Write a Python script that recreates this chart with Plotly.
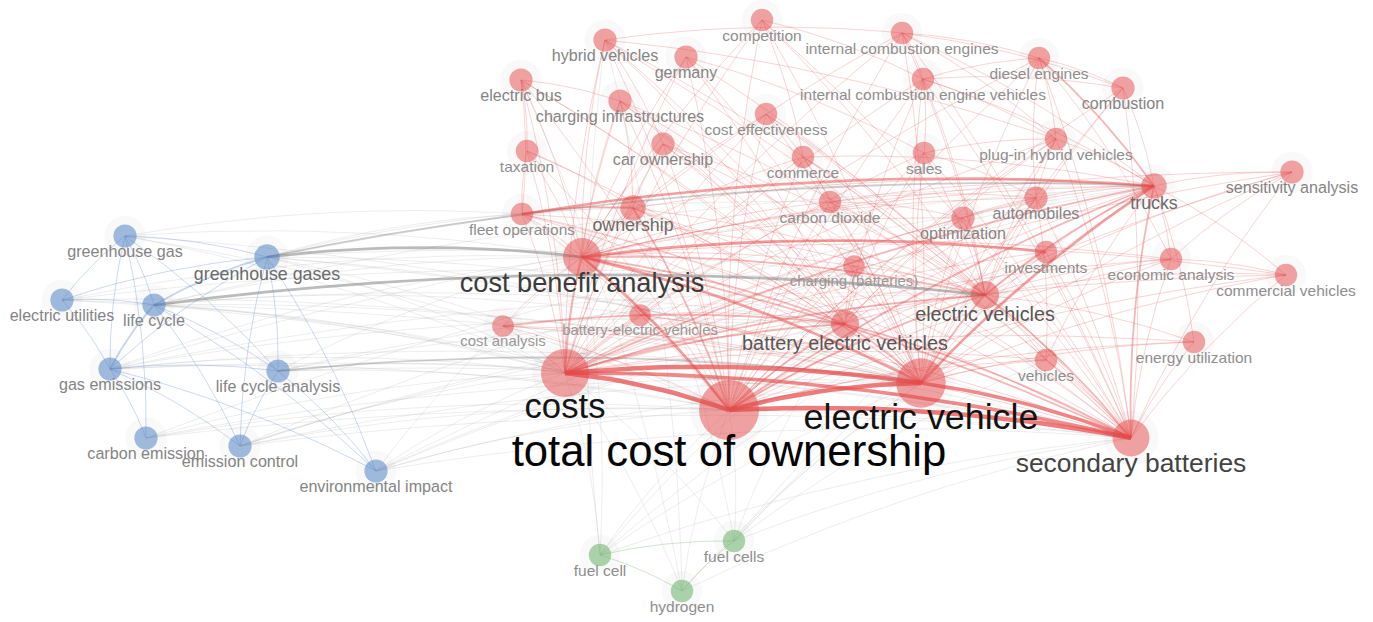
import numpy as np
import plotly.graph_objects as go

# ---------------- data ----------------
ids = ["ghg", "ghgs", "eutil", "lc", "gasem", "lca", "cem", "emc", "envi",
       "fc", "h2", "fcs",
       "hyb", "ger", "comp", "ice", "dies", "comb", "ebus", "chinf", "ceff", "icev",
       "phev", "tax", "carown", "commerce", "sales", "trucks", "sens", "fleet", "own",
       "co2", "auto", "opt", "cba", "chbat", "inv", "econ", "comveh", "evs", "cana",
       "bevh", "bev", "veh", "eu", "costs", "tco", "ev", "sb"]

labels = ["greenhouse gas", "greenhouse gases", "electric utilities", "life cycle", "gas emissions",
          "life cycle analysis", "carbon emission", "emission control", "environmental impact",
          "fuel cell", "hydrogen", "fuel cells",
          "hybrid vehicles", "germany", "competition", "internal combustion engines", "diesel engines",
          "combustion", "electric bus", "charging infrastructures", "cost effectiveness",
          "internal combustion engine vehicles", "plug-in hybrid vehicles", "taxation", "car ownership",
          "commerce", "sales", "trucks", "sensitivity analysis", "fleet operations", "ownership",
          "carbon dioxide", "automobiles", "optimization", "cost benefit analysis",
          "charging (batteries)", "investments", "economic analysis", "commercial vehicles",
          "electric vehicles", "cost analysis", "battery-electric vehicles", "battery electric vehicles",
          "vehicles", "energy utilization", "costs", "total cost of ownership", "electric vehicle",
          "secondary batteries"]

map_x = [125, 267, 62, 154, 110, 278, 146, 240, 376,
         600, 682, 734,
         605, 686, 762, 902, 1039, 1123, 521, 620, 766, 923,
         1056, 527, 663, 803, 924, 1154, 1292, 522, 633,
         830, 1036, 963, 582, 854, 1046, 1171, 1286, 985, 503,
         640, 845, 1046, 1194, 565, 729, 921, 1131]

map_y = [236, 257, 300, 305, 369, 371, 438, 446, 471,
         555, 591, 541,
         40, 57, 20, 33, 58, 88, 80, 101, 114, 79,
         139, 151, 144, 157, 153, 186, 172, 214, 208,
         202, 198, 218, 257, 266, 252, 259, 275, 295, 326,
         315, 324, 360, 342, 373, 410, 383, 438]

occurrences = [15, 18, 15, 15, 15, 15, 15, 15, 15,
               14, 14, 14,
               15, 15, 14, 14, 14, 15, 15, 15, 14, 14,
               14, 14, 15, 14, 14, 18, 15, 14, 18,
               14, 15, 15, 40, 13, 14, 14, 14, 22, 13,
               13, 22, 14, 14, 64, 100, 68, 38]

cluster = [1] * 9 + [2] * 3 + [0] * 37

# links: (source, target, strength)
links = [
    # blue cluster
    ("ghg", "ghgs", 1), ("ghg", "lc", 1), ("ghg", "gasem", 1), ("ghg", "lca", 1), ("ghg", "eutil", 1),
    ("ghg", "cem", 1), ("ghgs", "lc", 2), ("ghgs", "lca", 1), ("ghgs", "emc", 1), ("ghgs", "envi", 1),
    ("ghgs", "eutil", 1), ("ghgs", "gasem", 1), ("eutil", "lc", 1), ("eutil", "gasem", 1),
    ("lc", "gasem", 2), ("lc", "lca", 1), ("lc", "emc", 1), ("lc", "envi", 1), ("gasem", "lca", 1),
    ("gasem", "emc", 1), ("gasem", "cem", 1), ("gasem", "envi", 1), ("lca", "envi", 1), ("lca", "emc", 1),
    # blue to others
    ("ghg", "tco", 1), ("ghg", "costs", 1), ("ghg", "cba", 1), ("ghg", "ev", 1), ("ghg", "fleet", 1),
    ("ghgs", "cba", 3), ("ghgs", "tco", 1), ("ghgs", "costs", 1), ("ghgs", "ev", 1), ("ghgs", "evs", 1),
    ("ghgs", "bev", 1), ("ghgs", "trucks", 2), ("ghgs", "sb", 1), ("ghgs", "fleet", 1), ("ghgs", "own", 1),
    ("ghgs", "co2", 1),
    ("eutil", "tco", 1), ("eutil", "costs", 1), ("eutil", "cba", 1), ("eutil", "evs", 1), ("eutil", "ev", 1),
    ("lc", "evs", 3), ("lc", "tco", 1), ("lc", "costs", 1), ("lc", "ev", 1), ("lc", "sb", 1), ("lc", "cba", 1),
    ("lc", "bev", 1), ("lc", "bevh", 1), ("lc", "trucks", 1),
    ("gasem", "tco", 1), ("gasem", "costs", 1), ("gasem", "ev", 1), ("gasem", "sb", 1), ("gasem", "cba", 1),
    ("gasem", "evs", 1), ("gasem", "bev", 1), ("gasem", "trucks", 1),
    ("lca", "tco", 1), ("lca", "costs", 1), ("lca", "ev", 2), ("lca", "sb", 1), ("lca", "bev", 1),
    ("lca", "evs", 1), ("lca", "cba", 1),
    ("cem", "tco", 1), ("cem", "costs", 1), ("cem", "ev", 1), ("cem", "sb", 1), ("cem", "trucks", 1),
    ("emc", "tco", 1), ("emc", "costs", 1), ("emc", "ev", 1), ("emc", "sb", 1), ("emc", "evs", 1),
    ("emc", "bev", 1), ("emc", "trucks", 1),
    ("envi", "tco", 1), ("envi", "costs", 1), ("envi", "ev", 1), ("envi", "sb", 1), ("envi", "cba", 1),
    ("envi", "bev", 1), ("envi", "evs", 1), ("envi", "trucks", 1),
    # green cluster
    ("fc", "h2", 1), ("fc", "fcs", 1), ("h2", "fcs", 1),
    ("fc", "tco", 1), ("fc", "costs", 1), ("fc", "ev", 1), ("fc", "sb", 1), ("fc", "bev", 1), ("fc", "cba", 1),
    ("fc", "hyb", 1), ("fc", "evs", 1),
    ("h2", "tco", 1), ("h2", "ev", 1), ("h2", "costs", 1), ("h2", "sb", 1), ("h2", "hyb", 1), ("h2", "ebus", 1),
    ("fcs", "tco", 1), ("fcs", "ev", 1), ("fcs", "sb", 1), ("fcs", "costs", 1), ("fcs", "bev", 1),
    ("fcs", "evs", 1), ("fcs", "own", 1), ("fcs", "trucks", 1), ("fcs", "veh", 1),
    # red cluster
    ("hyb", "tco", 1), ("hyb", "costs", 1), ("hyb", "ev", 1), ("hyb", "cba", 1), ("hyb", "evs", 1),
    ("hyb", "bev", 1), ("hyb", "phev", 1), ("hyb", "ice", 1), ("hyb", "sb", 1), ("hyb", "carown", 1),
    ("ger", "tco", 1), ("ger", "ev", 1), ("ger", "costs", 1), ("ger", "bev", 1), ("ger", "evs", 1),
    ("ger", "sales", 1), ("ger", "cba", 1),
    ("comp", "tco", 1), ("comp", "ev", 1), ("comp", "costs", 1), ("comp", "cba", 1), ("comp", "evs", 1),
    ("comp", "sb", 1), ("comp", "commerce", 1), ("comp", "icev", 1),
    ("ice", "tco", 1), ("ice", "ev", 1), ("ice", "costs", 1), ("ice", "sb", 1), ("ice", "trucks", 1),
    ("ice", "dies", 1), ("ice", "icev", 1), ("ice", "phev", 1), ("ice", "evs", 1), ("ice", "cba", 1),
    ("ice", "comb", 1),
    ("dies", "trucks", 2), ("dies", "tco", 1), ("dies", "ev", 1), ("dies", "sb", 1), ("dies", "comb", 1),
    ("dies", "icev", 1), ("dies", "phev", 1), ("dies", "costs", 1), ("dies", "auto", 1), ("dies", "econ", 1),
    ("comb", "trucks", 1), ("comb", "ev", 1), ("comb", "tco", 1), ("comb", "sb", 1), ("comb", "icev", 1),
    ("comb", "evs", 1),
    ("ebus", "tco", 1), ("ebus", "costs", 1), ("ebus", "cba", 1), ("ebus", "ev", 1), ("ebus", "fleet", 1),
    ("ebus", "tax", 1), ("ebus", "chinf", 1), ("ebus", "bev", 1),
    ("chinf", "tco", 1), ("chinf", "costs", 1), ("chinf", "ev", 1), ("chinf", "evs", 1), ("chinf", "bev", 1),
    ("chinf", "cba", 1), ("chinf", "own", 1), ("chinf", "chbat", 1),
    ("ceff", "tco", 1), ("ceff", "costs", 1), ("ceff", "ev", 1), ("ceff", "cba", 1), ("ceff", "sb", 1),
    ("ceff", "evs", 1), ("ceff", "commerce", 1),
    ("icev", "tco", 1), ("icev", "ev", 1), ("icev", "sb", 1), ("icev", "costs", 1), ("icev", "phev", 1),
    ("icev", "sales", 1), ("icev", "trucks", 1), ("icev", "bev", 1), ("icev", "evs", 1),
    ("phev", "tco", 1), ("phev", "ev", 1), ("phev", "sb", 1), ("phev", "costs", 1), ("phev", "evs", 1),
    ("phev", "bev", 1), ("phev", "sales", 1), ("phev", "auto", 1), ("phev", "trucks", 1),
    ("tax", "tco", 1), ("tax", "costs", 1), ("tax", "cba", 1), ("tax", "ev", 1), ("tax", "fleet", 1),
    ("tax", "own", 1),
    ("carown", "tco", 1), ("carown", "costs", 1), ("carown", "ev", 1), ("carown", "own", 1),
    ("carown", "cba", 1), ("carown", "evs", 1), ("carown", "bev", 1), ("carown", "sb", 1),
    ("commerce", "tco", 1), ("commerce", "costs", 1), ("commerce", "ev", 1), ("commerce", "sb", 1),
    ("commerce", "cba", 1), ("commerce", "evs", 1), ("commerce", "trucks", 1), ("commerce", "co2", 1),
    ("sales", "tco", 1), ("sales", "ev", 1), ("sales", "sb", 1), ("sales", "costs", 1), ("sales", "evs", 1),
    ("sales", "bev", 1), ("sales", "auto", 1),
    ("trucks", "tco", 2), ("trucks", "ev", 3), ("trucks", "sb", 2), ("trucks", "costs", 2), ("trucks", "cba", 1),
    ("trucks", "fleet", 3), ("trucks", "own", 1), ("trucks", "econ", 1), ("trucks", "comveh", 1),
    ("trucks", "sens", 1), ("trucks", "evs", 2), ("trucks", "inv", 1), ("trucks", "auto", 1),
    ("trucks", "opt", 1), ("trucks", "bev", 1), ("trucks", "veh", 1), ("trucks", "eu", 1), ("trucks", "co2", 1),
    ("sens", "tco", 1), ("sens", "ev", 1), ("sens", "sb", 1), ("sens", "costs", 1), ("sens", "evs", 1),
    ("sens", "econ", 1), ("sens", "cba", 1),
    ("fleet", "tco", 1), ("fleet", "costs", 1), ("fleet", "cba", 1), ("fleet", "ev", 1), ("fleet", "own", 2),
    ("fleet", "evs", 1), ("fleet", "bev", 1), ("fleet", "sb", 1),
    ("own", "tco", 2), ("own", "costs", 1), ("own", "cba", 1), ("own", "ev", 1), ("own", "sb", 1),
    ("own", "evs", 1), ("own", "bev", 1),
    ("co2", "tco", 1), ("co2", "ev", 1), ("co2", "sb", 1), ("co2", "costs", 1), ("co2", "cba", 1),
    ("co2", "evs", 1), ("co2", "auto", 1), ("co2", "opt", 1),
    ("auto", "tco", 1), ("auto", "ev", 1), ("auto", "sb", 1), ("auto", "costs", 1), ("auto", "evs", 1),
    ("auto", "cba", 1), ("auto", "opt", 1), ("auto", "veh", 1),
    ("opt", "tco", 1), ("opt", "ev", 1), ("opt", "sb", 1), ("opt", "costs", 1), ("opt", "cba", 1),
    ("opt", "evs", 1), ("opt", "bev", 1),
    ("cba", "tco", 3), ("cba", "costs", 2), ("cba", "ev", 3), ("cba", "sb", 2), ("cba", "evs", 2),
    ("cba", "bev", 2), ("cba", "inv", 3), ("cba", "econ", 1),
    ("chbat", "tco", 1), ("chbat", "ev", 1), ("chbat", "sb", 1), ("chbat", "costs", 1), ("chbat", "bev", 1),
    ("chbat", "evs", 1), ("chbat", "cba", 1),
    ("inv", "tco", 1), ("inv", "ev", 1), ("inv", "sb", 1), ("inv", "costs", 1), ("inv", "evs", 1),
    ("econ", "tco", 1), ("econ", "ev", 1), ("econ", "sb", 1), ("econ", "costs", 1), ("econ", "comveh", 1),
    ("econ", "evs", 1),
    ("comveh", "tco", 1), ("comveh", "ev", 1), ("comveh", "sb", 1), ("comveh", "costs", 1),
    ("comveh", "evs", 1), ("comveh", "cba", 1),
    ("evs", "tco", 2), ("evs", "ev", 2), ("evs", "sb", 2), ("evs", "costs", 2), ("evs", "bev", 1),
    ("evs", "veh", 1),
    ("cana", "tco", 1), ("cana", "costs", 1), ("cana", "ev", 1), ("cana", "bev", 2), ("cana", "sb", 1),
    ("cana", "cba", 1),
    ("bevh", "tco", 1), ("bevh", "costs", 1), ("bevh", "ev", 1), ("bevh", "sb", 1), ("bevh", "cba", 1),
    ("bevh", "bev", 1),
    ("bev", "tco", 2), ("bev", "ev", 2), ("bev", "sb", 2), ("bev", "costs", 2),
    ("veh", "tco", 1), ("veh", "ev", 1), ("veh", "sb", 1), ("veh", "costs", 1),
    ("eu", "tco", 1), ("eu", "ev", 1), ("eu", "sb", 1), ("eu", "costs", 1), ("eu", "evs", 1),
    ("costs", "tco", 5), ("costs", "ev", 5), ("costs", "sb", 4),
    ("tco", "ev", 5), ("tco", "sb", 5), ("ev", "sb", 4),
]

# ---------------- derived styling ----------------
idx = {k: i for i, k in enumerate(ids)}
xs = np.array(map_x, float)
ys = np.array(map_y, float)
rad = 3.0 * np.sqrt(np.array(occurrences, float))
fsz = 1.5 * rad - 1.3
gray = np.interp(fsz, [15, 17, 19, 26, 28, 34, 44], [152, 118, 88, 72, 50, 22, 5])
label_colors = [f"rgb({int(g)},{int(g)},{int(g)})" for g in gray]

node_rgba = {0: "rgba(230,74,74,0.72)", 1: "rgba(82,132,196,0.78)", 2: "rgba(104,178,104,0.78)"}
edge_rgb = {0: (232, 80, 80), 1: (110, 150, 210), 2: (120, 185, 120), -1: (165, 165, 165)}

fig = go.Figure()

# edges, grouped by colour group and strength
groups = {}
seen = set()
for a, b, w in links:
    key = frozenset((a, b))
    if key in seen:
        continue
    seen.add(key)
    ia, ib = idx[a], idx[b]
    if xs[ia] > xs[ib]:
        ia, ib = ib, ia
    ca, cb = cluster[ia], cluster[ib]
    cg = ca if ca == cb else -1
    x0, y0, x1, y1 = xs[ia], ys[ia], xs[ib], ys[ib]
    dx, dy = x1 - x0, y1 - y0
    cx, cy = (x0 + x1) / 2 + 0.06 * dy, (y0 + y1) / 2 - 0.06 * dx
    t = np.linspace(0, 1, 16)
    bx = (1 - t) ** 2 * x0 + 2 * (1 - t) * t * cx + t ** 2 * x1
    by = (1 - t) ** 2 * y0 + 2 * (1 - t) * t * cy + t ** 2 * y1
    g = groups.setdefault((cg, w), ([], []))
    g[0].extend(list(bx) + [None])
    g[1].extend(list(by) + [None])

for (cg, w), (gx, gy) in sorted(groups.items(), key=lambda kv: (kv[0][1], kv[0][0] != -1)):
    r_, g_, b_ = edge_rgb[cg]
    if cg == -1:
        alpha = min(0.7, 0.22 + 0.14 * (w - 1))
        if w > 1:
            r_, g_, b_ = (120, 120, 120)
    elif cg == 0:
        alpha = min(0.75, 0.28 + 0.13 * (w - 1))
    else:
        alpha = 0.4
    fig.add_trace(go.Scatter(
        x=gx, y=gy, mode="lines",
        line=dict(color=f"rgba({r_},{g_},{b_},{alpha})", width=0.9 + 0.9 * (w - 1)),
        hoverinfo="skip", showlegend=False))

# soft halo
fig.add_trace(go.Scatter(
    x=xs, y=ys, mode="markers",
    marker=dict(size=2 * rad + 18, color="rgba(0,0,0,0.035)", line=dict(width=0)),
    hoverinfo="skip", showlegend=False))

# nodes
fig.add_trace(go.Scatter(
    x=xs, y=ys, mode="markers",
    marker=dict(size=2 * rad, color=[node_rgba[c] for c in cluster], line=dict(width=0)),
    hoverinfo="skip", showlegend=False))

# labels
fig.add_trace(go.Scatter(
    x=xs, y=ys + rad + 0.35 * fsz, mode="text", text=labels,
    textposition="middle center",
    textfont=dict(family="Liberation Sans, Arial, sans-serif", size=list(fsz), color=label_colors),
    hoverinfo="skip", showlegend=False))

fig.update_layout(
    width=1373, height=622,
    margin=dict(l=0, r=0, t=0, b=0),
    paper_bgcolor="white", plot_bgcolor="white",
    xaxis=dict(range=[0, 1373], visible=False, fixedrange=True),
    yaxis=dict(range=[622, 0], visible=False, fixedrange=True),
    showlegend=False, hovermode=False,
)

fig.write_html("out.html")
